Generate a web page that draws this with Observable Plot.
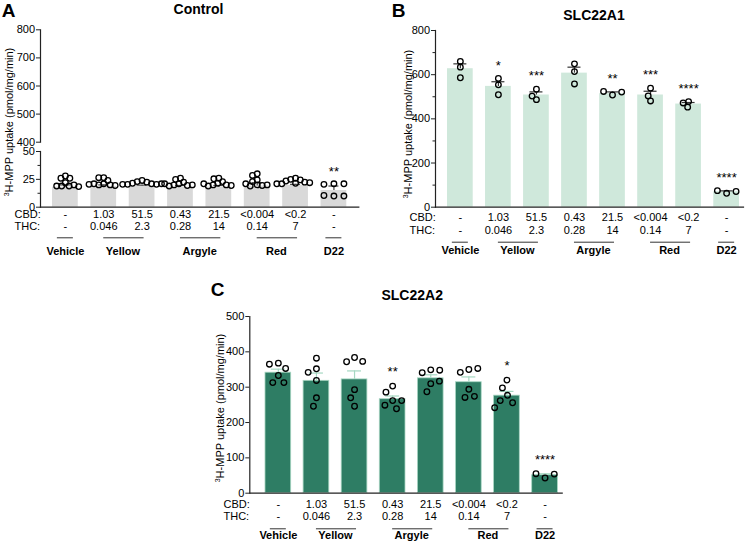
<!DOCTYPE html>
<html><head><meta charset="utf-8">
<script src="https://cdn.jsdelivr.net/npm/d3@7"></script>
<script src="https://cdn.jsdelivr.net/npm/@observablehq/plot@0.6"></script>
<style>
body{margin:0;background:#fff;}
#fig{position:relative;width:754px;height:546px;font-family:"Liberation Sans",Arial,sans-serif;color:#000;overflow:hidden;background:#fff}
.abs{position:absolute;}
.abs svg{overflow:visible;display:block}
.letter{position:absolute;font-weight:bold;font-size:19px;line-height:19px;}
.title{position:absolute;font-weight:bold;font-size:14px;transform:translate(-50%,-50%);white-space:nowrap;}
.ylab{position:absolute;font-size:11px;white-space:nowrap;transform:translate(-50%,-50%) rotate(-90deg);}
</style></head><body><div id="fig"></div>
<script>
// ---- shared categories / labels ----
const cats = ["Vehicle", "Yellow 1", "Yellow 2", "Argyle 1", "Argyle 2", "Red 1", "Red 2", "D22"];
const cbdLabels = ["-", "1.03", "51.5", "0.43", "21.5", "<0.004", "<0.2", "-"];
const thcLabels = ["-", "0.046", "2.3", "0.28", "14", "0.14", "7", "-"];
const groupNames = ["Vehicle", "Yellow", "Argyle", "Red", "D22"];
const groupFirst = ["Vehicle", "Yellow 1", "Argyle 1", "Red 1", "D22"];
const groupLast = ["Vehicle", "Yellow 2", "Argyle 2", "Red 2", "D22"];

// ---- Panel A: Control ----
const controlMeans = [18, 18.5, 19, 18, 18, 19, 19.5, 15];
const controlSem = [2, 1.5, 0.8, 1.5, 1.5, 3, 1, 4];
const controlPoints = [
  [28, 26, 26, 22, 19, 19, 20, 19, 18.5],
  [26.5, 26.5, 24, 21, 20, 20, 21, 19.5, 20.5],
  [24, 23, 22.5, 21.5, 21, 20.5, 20.5, 21, 20.5],
  [26, 25, 22.5, 21, 20, 19.5, 19, 20, 21],
  [26, 25.5, 23, 21.5, 20, 20, 19, 19.5, 21],
  [30, 28.5, 24.5, 23, 20, 19.5, 19, 20, 21],
  [26, 25, 24.5, 23.5, 22.5, 22, 21.5, 21, 21],
  [21, 20.5, 21, 10, 10.5, 10]
];
const controlStars = ["", "", "", "", "", "", "", "**"];
const controlTicksLow = [0, 25, 50];
const controlMinorLow = [12.5, 37.5];
const controlTicksHigh = [400, 500, 600, 700, 800];

// ---- Panel B: SLC22A1 ----
const a1Means = [627, 547, 508, 607, 514, 508, 467, 70];
const a1Sem = [22, 21, 14, 27, 8, 17, 7, 4];
const a1Points = [
  [660, 634, 586],
  [583, 554, 509],
  [534, 487, 503],
  [649, 614, 558],
  [508, 524, 521],
  [539, 481, 504],
  [478, 453, 472],
  [63, 75, 71]
];
const a1Stars = ["", "*", "***", "", "**", "***", "****", "****"];
const a1Ticks = [0, 200, 400, 600, 800];
const a1Minor = [100, 300, 500, 700];

// ---- Panel C: SLC22A2 ----
const a2Means = [341, 318, 322, 266, 325, 314, 276, 51];
const a2Sem = [10, 22, 24, 9, 10, 15, 12, 4];
const a2Points = [
  [368, 365, 353, 333, 313, 313],
  [382, 352, 342, 319, 270, 246],
  [384, 372, 373, 293, 270, 246],
  [303, 286, 262, 262, 249, 239],
  [349, 341, 348, 310, 317, 287],
  [350, 342, 353, 294, 271, 274],
  [320, 298, 277, 262, 256, 242],
  [43, 55, 54]
];
const a2Stars = ["", "", "", "**", "", "", "*", "****"];
const a2Ticks = [0, 100, 200, 300, 400, 500];

const FONT = '"Liberation Sans", Arial, sans-serif';
const fig = document.getElementById("fig");

function place(node, left, top) {
  const d = document.createElement("div");
  d.className = "abs";
  d.style.left = left + "px";
  d.style.top = top + "px";
  d.appendChild(node);
  fig.appendChild(d);
}
function html(cls, text, left, top) {
  const d = document.createElement("div");
  d.className = cls;
  d.innerHTML = text;
  d.style.left = left + "px";
  d.style.top = top + "px";
  fig.appendChild(d);
}

function panel(cfg) {
  const table = cats.map((c, i) => ({
    cat: c, mean: cfg.means[i], top: cfg.means[i] + cfg.sems[i],
    peak: d3.max(cfg.points[i]), star: cfg.stars[i], cbd: cbdLabels[i], thc: thcLabels[i]
  }));
  const pts = cats.flatMap((c, i) => cfg.points[i].map(v => ({cat: c, value: v})));
  const groups = groupNames.map((g, i) => ({
    name: g, first: groupFirst[i], last: groupLast[i],
    span: cats.indexOf(groupLast[i]) - cats.indexOf(groupFirst[i])
  }));
  const L = cfg.width - cfg.mL - cfg.mR;
  const step = L / (cats.length - cfg.band.paddingInner + 2 * cfg.band.paddingOuter);
  const bw = step * (1 - cfg.band.paddingInner);
  const band = {domain: cats, ...cfg.band, round: false};
  const dims = {width: cfg.width, height: cfg.height, marginLeft: cfg.mL, marginRight: cfg.mR, marginTop: cfg.mT, marginBottom: cfg.mB};
  const style = {background: "transparent", fontFamily: FONT, fontSize: "11px", color: "#000", overflow: "visible"};
  const r = cfg.rows;

  const base = Plot.plot({
    ...dims, style,
    x: {...band, axis: null},
    y: {domain: cfg.domain, label: null},
    marks: [
      Plot.barY(table, {x: "cat", y: "mean", fill: cfg.fill, stroke: cfg.barStroke || "none", strokeWidth: 0.8}),
      Plot.ruleX(table, {x: "cat", y1: "mean", y2: "top", stroke: cfg.err, strokeWidth: 1.2}),
      Plot.tickY(table, {x: "cat", y: "top", stroke: cfg.err, strokeWidth: 1.2, insetLeft: (bw - cfg.cap) / 2, insetRight: (bw - cfg.cap) / 2}),
      Plot.text(table, {x: "cat", y: "peak", text: "star", dy: cfg.starDy, fontSize: 13, fill: "#000"}),
      Plot.axisY(cfg.ticks, {tickSize: 4, tickPadding: 1.5, fontSize: 11, label: null, stroke: "#222", fill: "#000"}),
      ...(cfg.minor ? [Plot.axisY(cfg.minor, {tickSize: 2.5, tickFormat: () => "", label: null, stroke: "#222"})] : []),
      Plot.frame({anchor: "left", stroke: "#222", strokeWidth: 1.2}),
      Plot.frame({anchor: "bottom", stroke: "#222", strokeWidth: 1.2}),
      Plot.text(table, {x: "cat", text: "cbd", frameAnchor: "bottom", dy: r[0], fontSize: 11, fill: "#000"}),
      Plot.text(table, {x: "cat", text: "thc", frameAnchor: "bottom", dy: r[1], fontSize: 11, fill: "#000"}),
      Plot.text(["CBD:"], {frameAnchor: "bottom-left", textAnchor: "start", dx: cfg.rowDx, dy: r[0], fontSize: 11, fill: "#000"}),
      Plot.text(["THC:"], {frameAnchor: "bottom-left", textAnchor: "start", dx: cfg.rowDx, dy: r[1], fontSize: 11, fill: "#000"}),
      Plot.ruleY(groups.filter(g => g.span > 0), {x1: "first", x2: "last", y: () => cfg.domain[0], dy: r[2], stroke: "#333", strokeWidth: 1, insetLeft: bw / 2, insetRight: bw / 2 - 2}),
      Plot.ruleY(groups.filter(g => g.span === 0), {x1: "first", x2: "last", y: () => cfg.domain[0], dy: r[2], stroke: "#333", strokeWidth: 1, insetLeft: (bw - 16) / 2, insetRight: (bw - 16) / 2}),
      Plot.text(groups.filter(g => g.span > 0), {x: "first", text: "name", frameAnchor: "bottom", dy: r[3], dx: step / 2, fontSize: 11, fontWeight: "bold", fill: "#000"}),
      Plot.text(groups.filter(g => g.span === 0), {x: "first", text: "name", frameAnchor: "bottom", dy: r[3], fontSize: 11, fontWeight: "bold", fill: "#000"})
    ]
  });
  place(base, cfg.left, cfg.top);

  const dotStyle = {fx: "cat", y: "value", r: 2.8, stroke: "#000", strokeWidth: 1.3, fill: "none"};
  const wide = cfg.wideCats || [];
  const dots = Plot.plot({
    ...dims, style,
    fx: {...band, axis: null, label: null},
    y: {domain: cfg.domain, axis: null},
    marks: [
      Plot.dot(pts.filter(p => !wide.includes(p.cat)), Plot.dodgeX({anchor: "middle", padding: cfg.pad}, dotStyle)),
      Plot.dot(pts.filter(p => wide.includes(p.cat)), Plot.dodgeX({anchor: "middle", padding: cfg.widePad}, dotStyle))
    ]
  });
  place(dots, cfg.left, cfg.top);
}

// Panel A (lower, broken axis 0-50)
panel({
  left: 0, top: 140, width: 360, height: 125, mL: 40, mR: 1.7, mT: 11, mB: 58.3,
  domain: [0, 50], ticks: controlTicksLow, minor: controlMinorLow,
  means: controlMeans, sems: controlSem, points: controlPoints, stars: controlStars,
  fill: "#d9d9d9", err: "#444", cap: 10, starDy: -12, pad: -0.6, wideCats: ["D22"], widePad: 4.4,
  band: {paddingInner: 0.329, paddingOuter: 0.313, align: 0.5},
  rows: [10.5, 22.8, 30.6, 47.3], rowDx: -26
});
// Panel A upper segment 400-800
place(Plot.plot({
  width: 360, height: 125, marginLeft: 40, marginRight: 1.7, marginTop: 9.3, marginBottom: 3.3,
  style: {background: "transparent", fontFamily: FONT, fontSize: "11px", color: "#000", overflow: "visible"},
  y: {domain: [400, 800], label: null},
  marks: [
    Plot.axisY(controlTicksHigh, {tickSize: 4, tickPadding: 1.5, fontSize: 11, label: null, stroke: "#222", fill: "#000"}),
    Plot.frame({anchor: "left", stroke: "#222", strokeWidth: 1.2})
  ]
}), 0, 20);

// Panel B
panel({
  left: 375, top: 20, width: 375, height: 245, mL: 60, mR: 7, mT: 10, mB: 58.3,
  domain: [0, 800], ticks: a1Ticks, minor: a1Minor,
  means: a1Means, sems: a1Sem, points: a1Points, stars: a1Stars,
  fill: "#cfe8db", err: "#333", cap: 13, starDy: -13, pad: 0, wideCats: ["Argyle 2", "D22"], widePad: 4,
  band: {paddingInner: 0.3244, paddingOuter: 0.2107, align: 0.749},
  rows: [14, 26.5, 35, 46.5], rowDx: -26
});

// Panel C
panel({
  left: 200, top: 300, width: 380, height: 246, mL: 49.3, mR: 18.3, mT: 16, mB: 53.3,
  domain: [0, 500], ticks: a2Ticks, minor: null,
  means: a2Means, sems: a2Sem, points: a2Points, stars: a2Stars,
  fill: "#2e7d64", barStroke: "#a9d6c3", err: "#a6d8c2", cap: 14, starDy: -14, pad: 3.4, wideCats: ["D22"], widePad: 4.4,
  band: {paddingInner: 0.3255, paddingOuter: 0.2623, align: 0.785},
  rows: [14.6, 26.6, 35.6, 45.6], rowDx: -26.3
});

// Titles, letters, axis labels
html("letter", "A", 1.7, 0.6);
html("letter", "B", 391.7, 0.6);
html("letter", "C", 210.7, 279.6);
html("title", "Control", 198.5, 9.2);
html("title", "SLC22A1", 594, 14.5);
html("title", "SLC22A2", 412.2, 295.3);
const yl = "<sup style='font-size:7px'>3</sup>H-MPP uptake (pmol/mg/min)";
html("ylab", yl, 9, 121.7);
html("ylab", yl, 408, 124);
html("ylab", yl, 220, 408.3);
</script></body></html>
